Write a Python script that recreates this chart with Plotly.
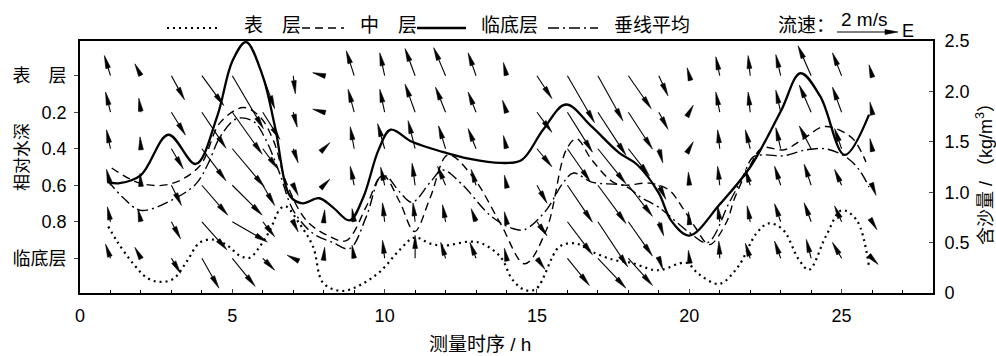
import math
import plotly.graph_objects as go

# ---------------- data ----------------
hours = list(range(1, 27))
layer_depths = [0.0, 0.2, 0.4, 0.6, 0.8, 1.0]
depth_ticktext = ["表　层", "0.2", "0.4", "0.6", "0.8", "临底层"]
conc_tickvals = [0, 0.5, 1.0, 1.5, 2.0, 2.5]
conc_ticktext = ["0", "0.5", "1.0", "1.5", "2.0", "2.5"]
x_tickvals = [0, 5, 10, 15, 20, 25]

# velocity components (m/s), u = east, v = north, one value per hour
u_surface = [-0.20, -0.20, 0.43, 0.72, 1.02, 0.39, 0.07, -0.36, -0.26, -0.16, -0.33, -0.39, -0.26,
             -0.10, 0.49, 0.89, 0.82, 0.75, 0.30, -0.07, -0.13, -0.07, -0.16, -0.43, -0.30, -0.10]
v_surface = [0.66, 0.39, -0.79, -0.98, -1.74, -1.08, -0.59, 0.10, 0.82, 0.75, 0.89, 0.92, 0.75,
             0.43, -0.75, -1.54, -1.48, -1.08, -0.66, 0.26, 0.62, 0.66, 0.69, 0.98, 0.75, 0.36]
u_02 = [-0.16, -0.07, 0.46, 0.79, 0.98, 0.56, 0.13, -0.36, -0.20, -0.16, -0.33, -0.33, -0.26,
        -0.13, 0.49, 0.82, 0.92, 0.79, 0.30, 0.13, -0.13, -0.07, -0.16, -0.39, -0.30, -0.07]
v_02 = [0.66, 0.46, -0.75, -1.18, -1.38, -0.89, -0.49, 0.10, 0.75, 0.75, 0.92, 0.82, 0.66,
        0.39, -0.66, -1.31, -1.41, -1.21, -0.56, 0.23, 0.66, 0.66, 0.72, 0.89, 0.82, 0.33]
u_04 = [-0.13, -0.03, 0.39, 0.79, 1.05, 0.49, 0.16, 0.20, -0.13, -0.23, -0.23, -0.23, -0.26,
        -0.10, 0.49, 0.75, 0.92, 0.69, 0.13, 0.13, -0.07, -0.16, -0.16, -0.39, -0.23, -0.07]
v_04 = [0.62, 0.39, -0.66, -1.05, -1.25, -0.66, -0.46, 0.20, 0.72, 0.82, 0.92, 0.75, 0.66,
        0.43, -0.59, -1.08, -1.15, -0.89, -0.46, 0.23, 0.62, 0.62, 0.69, 0.75, 0.66, 0.33]
u_06 = [-0.13, -0.03, 0.33, 0.85, 0.98, 0.39, 0.16, 0.20, -0.13, -0.13, -0.10, -0.26, -0.16,
        -0.07, 0.33, 0.82, 0.92, 0.79, 0.23, -0.03, -0.07, -0.16, -0.20, -0.23, -0.23, 0.13]
v_06 = [0.52, 0.39, -0.66, -0.98, -0.98, -0.66, -0.33, 0.20, 0.62, 0.59, 0.72, 0.62, 0.52,
        0.33, -0.59, -1.21, -1.25, -1.02, -0.46, 0.43, 0.62, 0.52, 0.62, 0.69, 0.52, -0.33]
u_08 = [-0.10, -0.10, 0.30, 0.82, 1.15, 0.39, 0.16, 0.03, -0.07, -0.07, -0.07, -0.10, -0.16,
        -0.07, 0.33, 0.82, 0.98, 0.79, 0.16, -0.03, -0.07, -0.10, -0.20, -0.23, -0.23, 0.16]
v_08 = [0.49, 0.43, -0.56, -0.92, -0.66, -0.49, -0.33, 0.39, 0.43, 0.62, 0.62, 0.56, 0.43,
        0.33, -0.46, -1.08, -1.48, -1.12, -0.46, 0.33, 0.52, 0.52, 0.59, 0.62, 0.52, -0.26]
u_bottom = [-0.16, -0.20, 0.30, 0.56, 0.75, 0.39, -0.20, 0.03, -0.07, -0.07, 0.00, -0.16, -0.20,
            -0.07, 0.26, 0.72, 0.92, 0.79, 0.13, -0.03, -0.03, -0.16, -0.20, -0.16, -0.30, 0.20]
v_bottom = [0.46, 0.36, -0.49, -0.98, -0.92, -0.39, 0.10, 0.36, 0.43, 0.59, 0.75, 0.52, 0.52,
            0.33, -0.36, -0.89, -0.98, -0.89, -0.36, 0.26, 0.56, 0.49, 0.56, 0.62, 0.52, -0.20]

# suspended sediment concentration (kg/m3)
t_surface = [0.93, 1.2, 1.75, 2.2, 2.6, 3.06, 3.5, 3.93, 4.37, 4.8, 5.25, 5.57, 5.9, 6.23, 6.56,
             6.75, 7.2, 7.65, 7.98, 8.6, 9.2, 9.84, 10.5, 10.98, 11.5, 11.93, 12.8, 13.2, 13.8,
             14.2, 14.6, 14.97, 15.74, 16.29, 16.8, 17.5, 18.1, 18.8, 19.1, 19.9, 20.3, 20.98,
             21.6, 22.2, 22.6, 23.07, 23.6, 23.93, 24.48, 25.0, 25.5, 25.9]
c_surface = [0.66, 0.52, 0.29, 0.15, 0.11, 0.14, 0.31, 0.50, 0.53, 0.48, 0.37, 0.35, 0.46, 0.62,
             0.83, 0.86, 0.69, 0.46, 0.10, 0.02, 0.08, 0.21, 0.43, 0.55, 0.49, 0.47, 0.51, 0.49,
             0.36, 0.13, 0.03, 0.04, 0.46, 0.49, 0.41, 0.33, 0.30, 0.23, 0.23, 0.30, 0.19, 0.09,
             0.26, 0.59, 0.69, 0.63, 0.33, 0.23, 0.56, 0.82, 0.72, 0.26]

t_middle = [1.04, 1.97, 2.95, 3.93, 4.6, 5.36, 5.9, 6.34, 6.78, 7.43, 8.2, 8.74, 9.4, 9.84, 10.0,
            10.5, 10.98, 11.5, 12.08, 12.9, 13.8, 14.6, 15.3, 15.96, 16.3, 16.8, 17.5, 17.9,
            18.7, 19.34, 19.77, 20.2, 20.66, 21.2, 21.5, 21.97, 22.4, 23.1, 23.7, 24.4, 24.9,
            25.4, 25.8]
c_middle = [1.24, 1.09, 1.08, 1.26, 1.69, 1.84, 1.75, 1.52, 1.09, 0.72, 0.56, 0.52, 0.86, 1.15,
            1.16, 0.90, 0.61, 0.95, 1.37, 1.15, 0.69, 0.29, 0.62, 1.42, 1.53, 1.32, 1.10, 1.07,
            1.09, 1.02, 0.85, 0.65, 0.48, 0.69, 0.95, 1.25, 1.44, 1.42, 1.52, 1.65, 1.62, 1.52,
            1.30]

t_bottom = [0.9, 1.3, 2.0, 2.9, 3.8, 4.5, 5.0, 5.45, 6.0, 6.4, 6.9, 7.3, 7.85, 8.3, 8.85, 9.3,
            9.8, 10.2, 10.9, 11.9, 12.8, 13.8, 14.5, 15.2, 15.95, 16.8, 17.7, 18.3, 19.0, 19.4,
            20.0, 21.0, 22.0, 23.0, 23.65, 24.3, 25.1, 25.9]
c_bottom = [1.10, 1.09, 1.17, 1.57, 1.28, 1.75, 2.30, 2.49, 2.15, 1.65, 0.96, 0.89, 0.94, 0.85,
            0.72, 0.95, 1.42, 1.62, 1.50, 1.40, 1.33, 1.29, 1.32, 1.62, 1.87, 1.65, 1.39, 1.27,
            0.99, 0.72, 0.57, 0.88, 1.25, 1.80, 2.18, 1.95, 1.37, 1.77]

t_mean = [0.9, 1.4, 2.0, 3.0, 3.8, 4.2, 4.6, 5.15, 5.7, 6.1, 6.55, 7.0, 7.65, 8.3, 8.85, 9.4,
          9.85, 10.05, 10.5, 10.9, 11.5, 11.9, 12.5, 13.5, 14.2, 14.6, 15.3, 15.85, 16.2, 16.8,
          17.9, 18.4, 19.0, 20.0, 20.6, 21.3, 21.75, 22.1, 22.51, 23.07, 23.83, 24.48, 25.14,
          25.58, 25.9]
c_mean = [1.12, 0.95, 0.82, 0.92, 1.08, 1.28, 1.55, 1.73, 1.70, 1.52, 1.19, 0.82, 0.59, 0.50,
          0.44, 0.76, 1.15, 1.16, 1.00, 0.90, 1.10, 1.22, 1.09, 0.76, 0.64, 0.63, 0.82, 1.09,
          1.19, 1.10, 1.06, 0.95, 0.85, 0.60, 0.50, 0.89, 1.15, 1.35, 1.37, 1.36, 1.42, 1.43,
          1.35, 1.22, 1.05]

# ---------------- geometry ----------------
W, H = 996, 356
M = dict(l=80, r=63, t=41, b=63)
X_RANGE = [0, 28]
D_RANGE = [1.19, -0.19]          # relative depth, surface at top
C_RANGE = [0, 2.5]
PW = W - M["l"] - M["r"]
PH = H - M["t"] - M["b"]
px_per_h = PW / (X_RANGE[1] - X_RANGE[0])
px_per_d = PH / (D_RANGE[0] - D_RANGE[1])
PX_PER_MS = 30.5                 # 2 m/s reference arrow = 61 px
HEAD_LEN, HEAD_HALF = 13.0, 2.4

FONT = "Liberation Sans, Arial, Noto Sans CJK SC, sans-serif"


def paper_x(px):
    return (px - M["l"]) / PW


def paper_y(py):
    return (H - M["b"] - py) / PH


# ---------------- velocity arrows ----------------
layers_u = [u_surface, u_02, u_04, u_06, u_08, u_bottom]
layers_v = [v_surface, v_02, v_04, v_06, v_08, v_bottom]

shaft_x, shaft_y, head_x, head_y = [], [], [], []
for depth, us, vs in zip(layer_depths, layers_u, layers_v):
    for h, u, v in zip(hours, us, vs):
        dx, dy = u * PX_PER_MS, -v * PX_PER_MS       # screen pixels, y down
        L = math.hypot(dx, dy)
        if L == 0:
            continue
        ex, ey = dx / L, dy / L
        bx, by = dx - HEAD_LEN * ex, dy - HEAD_LEN * ey
        nx, ny = -ey, ex

        def to_data(px, py):
            return h + px / px_per_h, depth + py / px_per_d

        if L > HEAD_LEN:
            for p in [(0, 0), (bx, by)]:
                xx, yy = to_data(*p)
                shaft_x.append(xx)
                shaft_y.append(yy)
            shaft_x.append(None)
            shaft_y.append(None)
        for p in [(dx, dy), (bx + HEAD_HALF * nx, by + HEAD_HALF * ny),
                  (bx - HEAD_HALF * nx, by - HEAD_HALF * ny), (dx, dy)]:
            xx, yy = to_data(*p)
            head_x.append(xx)
            head_y.append(yy)
        head_x.append(None)
        head_y.append(None)

fig = go.Figure()
fig.add_trace(go.Scatter(x=shaft_x, y=shaft_y, mode="lines",
                         line=dict(color="black", width=1.1), yaxis="y", hoverinfo="skip"))
fig.add_trace(go.Scatter(x=head_x, y=head_y, mode="lines", fill="toself", fillcolor="black",
                         line=dict(color="black", width=0.6), yaxis="y", hoverinfo="skip"))

# ---------------- concentration curves ----------------
styles = [
    (t_surface, c_surface, dict(color="black", width=2.2, dash="2px,4px")),
    (t_middle, c_middle, dict(color="black", width=1.4, dash="8px,5px")),
    (t_bottom, c_bottom, dict(color="black", width=2.3)),
    (t_mean, c_mean, dict(color="black", width=1.4, dash="11px,4px,2px,4px")),
]
for t, c, ln in styles:
    fig.add_trace(go.Scatter(x=t, y=c, mode="lines", yaxis="y2",
                             line=dict(shape="spline", smoothing=1.0, **ln), hoverinfo="skip"))

# ---------------- legend ----------------
shapes = []
annotations = []
leg_y = paper_y(28)
leg_items = [
    (167, 217, "2px,4px", 2.2, 242, "表　层"),
    (302, 344, "8px,5px", 1.4, 358, "中　层"),
    (417, 466, "solid", 2.3, 479, "临底层"),
    (548, 598, "11px,4px,2px,4px", 1.4, 612, "垂线平均"),
]
for x0, x1, dash, w, tx, label in leg_items:
    shapes.append(dict(type="line", xref="paper", yref="paper", x0=paper_x(x0), x1=paper_x(x1),
                       y0=leg_y, y1=leg_y, line=dict(color="black", width=w, dash=dash)))
    annotations.append(dict(xref="paper", yref="paper", x=paper_x(tx), y=paper_y(26),
                            xanchor="left", yanchor="middle", text=label, showarrow=False,
                            font=dict(family=FONT, size=19, color="black")))

annotations.append(dict(xref="paper", yref="paper", x=paper_x(776), y=paper_y(26),
                        xanchor="left", yanchor="middle", text="流速：", showarrow=False,
                        font=dict(family=FONT, size=19, color="black")))
annotations.append(dict(xref="paper", yref="paper", x=paper_x(864), y=paper_y(19),
                        xanchor="center", yanchor="middle", text="2 m/s", showarrow=False,
                        font=dict(family=FONT, size=19, color="black")))
annotations.append(dict(xref="paper", yref="paper", x=paper_x(900), y=paper_y(31),
                        xanchor="left", yanchor="middle", text="E", showarrow=False,
                        font=dict(family=FONT, size=18, color="black")))
ref_y = 32
ref_x0, ref_x1 = 837, 837 + 2 * PX_PER_MS
shapes.append(dict(type="line", xref="paper", yref="paper", x0=paper_x(ref_x0),
                   x1=paper_x(ref_x1 - HEAD_LEN), y0=paper_y(ref_y), y1=paper_y(ref_y),
                   line=dict(color="black", width=1.1)))
shapes.append(dict(type="path", xref="paper", yref="paper",
                   path=(f"M {paper_x(ref_x1)} {paper_y(ref_y)} "
                         f"L {paper_x(ref_x1 - HEAD_LEN)} {paper_y(ref_y - HEAD_HALF)} "
                         f"L {paper_x(ref_x1 - HEAD_LEN)} {paper_y(ref_y + HEAD_HALF)} Z"),
                   fillcolor="black", line=dict(color="black", width=0.6)))

# axis titles
annotations.append(dict(xref="paper", yref="paper", x=paper_x(480), y=paper_y(344),
                        xanchor="center", yanchor="middle", text="测量时序 / h", showarrow=False,
                        font=dict(family=FONT, size=19, color="black")))
annotations.append(dict(xref="paper", yref="paper", x=paper_x(22), y=paper_y(157),
                        xanchor="center", yanchor="middle", text="相对水深", textangle=-90,
                        showarrow=False, font=dict(family=FONT, size=17, color="black")))
annotations.append(dict(xref="paper", yref="paper", x=paper_x(984), y=paper_y(170),
                        xanchor="center", yanchor="middle",
                        text="含沙量 / （kg/m<sup>3</sup>）", textangle=-90,
                        showarrow=False, font=dict(family=FONT, size=18, color="black")))

fig.update_layout(
    width=W, height=H, margin=M, showlegend=False,
    paper_bgcolor="white", plot_bgcolor="white",
    font=dict(family=FONT, size=18, color="black"),
    shapes=shapes, annotations=annotations,
    xaxis=dict(range=X_RANGE, tickvals=x_tickvals, ticks="inside", ticklen=4, tickwidth=1.2,
               showline=True, linewidth=1.6, linecolor="black", mirror=True, showgrid=False,
               zeroline=False, ticklabelstandoff=6, tickfont=dict(size=18),
               minor=dict(dtick=1, tick0=0, ticks="inside", ticklen=3, tickwidth=1.2,
                          tickcolor="black", showgrid=False)),
    yaxis=dict(range=D_RANGE, tickvals=layer_depths, ticktext=depth_ticktext, ticks="outside",
               ticklen=4, tickwidth=1.2, showline=True, linewidth=1.6, linecolor="black",
               showgrid=False, zeroline=False, tickfont=dict(size=18), ticklabelstandoff=4),
    yaxis2=dict(range=C_RANGE, tickvals=conc_tickvals, ticktext=conc_ticktext,
                overlaying="y", side="right", ticks="inside", ticklen=4, tickwidth=1.2,
                showline=True, linewidth=1.6, linecolor="black", showgrid=False,
                zeroline=False, tickfont=dict(size=18), ticklabelstandoff=6),
)

fig.write_html("out.html")
